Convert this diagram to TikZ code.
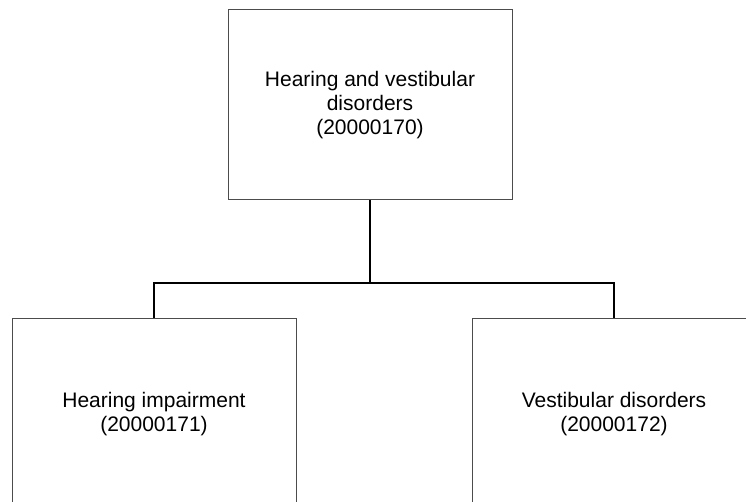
\documentclass[tikz,border=0pt]{standalone}
\usepackage{fontspec}
\setmainfont{Liberation Sans}
\begin{document}
\begin{tikzpicture}[x=1pt,y=-1pt,
  box/.style={draw=black!70, line width=1pt, minimum width=284pt, minimum height=192pt, inner sep=0pt, align=center, font=\fontsize{21}{24}\selectfont},
  link/.style={draw=black, line width=2pt}]
\useasboundingbox (0,0) rectangle (746,502);
\node[box, minimum height=190pt] (top) at (370,105) {Hearing and vestibular\\disorders\\(20000170)};
\node[box] (hl) at (154,414) {Hearing impairment\\(20000171)};
\node[box] (hr) at (614,414) {Vestibular disorders\\(20000172)};
\coordinate (j) at (370,283);
\draw[link] (top.south) -- (j);
\draw[link] (hl.north) |- (j) -| (hr.north);
\end{tikzpicture}
\end{document}
